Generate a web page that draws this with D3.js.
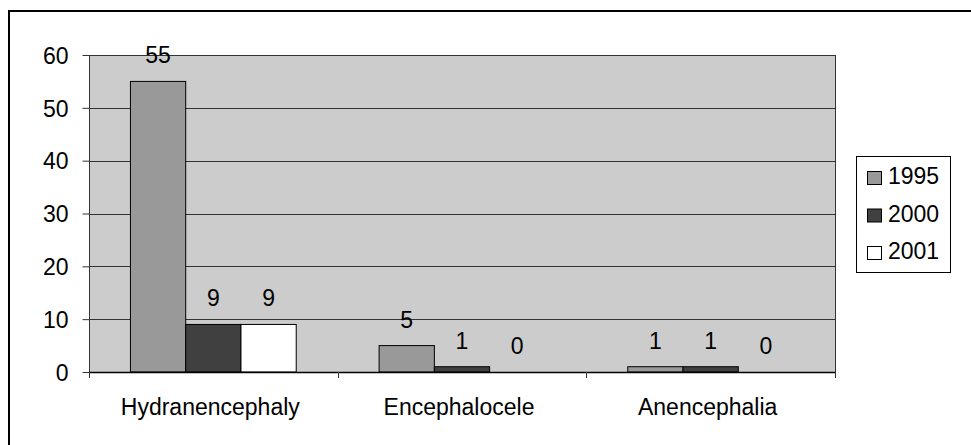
<!DOCTYPE html>
<html>
<head>
<meta charset="utf-8">
<script src="https://cdn.jsdelivr.net/npm/d3@7"></script>
<style>
  html, body { margin: 0; padding: 0; background: #ffffff; }
  svg { display: block; }
  text { font-family: "Liberation Sans", Arial, sans-serif; }
</style>
</head>
<body>
<svg id="chart" width="971" height="445"></svg>
<script>
const categories = ["Hydranencephaly", "Encephalocele", "Anencephalia"];
const seriesNames = ["1995", "2000", "2001"];
const values1995 = [55, 5, 1];
const values2000 = [9, 1, 1];
const values2001 = [9, 0, 0];
const yTicks = [0, 10, 20, 30, 40, 50, 60];
const seriesColors = ["#999999", "#404040", "#ffffff"];

const seriesValues = [values1995, values2000, values2001];

const svg = d3.select("#chart");
const W = 971, H = 445;
const plot = { left: 89, right: 835, top: 55, bottom: 372 };
const fontSize = 23;

// outer frame (left and top only visible)
svg.append("path")
  .attr("d", `M9,${H} L9,11 L${W},11`)
  .attr("fill", "none").attr("stroke", "#000").attr("stroke-width", 2);

const x0 = d3.scaleBand().domain(categories).range([plot.left, plot.right]).paddingInner(0).paddingOuter(0);
const y = d3.scaleLinear().domain([0, 60]).range([plot.bottom, plot.top]);

// plot background
svg.append("rect")
  .attr("x", plot.left).attr("y", plot.top)
  .attr("width", plot.right - plot.left).attr("height", plot.bottom - plot.top)
  .attr("fill", "#cccccc");

// gridlines
svg.append("g").selectAll("line").data(yTicks.filter(d => d > 0)).join("line")
  .attr("x1", plot.left).attr("x2", plot.right)
  .attr("y1", d => Math.round(y(d)) + 0.5).attr("y2", d => Math.round(y(d)) + 0.5)
  .attr("stroke", "#333").attr("stroke-width", 1);

// right border of plot
svg.append("line")
  .attr("x1", plot.right + 0.5).attr("x2", plot.right + 0.5)
  .attr("y1", plot.top).attr("y2", plot.bottom + 6)
  .attr("stroke", "#333").attr("stroke-width", 1);

// bars
const bandW = x0.bandwidth();
const barW = bandW / 4.5;
const x1 = d3.scaleBand().domain(seriesNames)
  .range([0, barW * 3]);

const groups = svg.append("g").selectAll("g").data(categories).join("g")
  .attr("transform", d => `translate(${x0(d) + (bandW - barW * 3) / 2},0)`);

seriesNames.forEach((s, si) => {
  groups.append("rect")
    .attr("x", x1(s)).attr("width", barW)
    .attr("y", (d, ci) => y(seriesValues[si][ci]))
    .attr("height", (d, ci) => y(0) - y(seriesValues[si][ci]))
    .attr("fill", seriesColors[si])
    .attr("stroke", "#000").attr("stroke-width", 1)
    .attr("display", (d, ci) => seriesValues[si][ci] === 0 ? "none" : null);
  groups.append("text")
    .attr("x", x1(s) + barW / 2)
    .attr("y", (d, ci) => y(seriesValues[si][ci]) - 18)
    .attr("text-anchor", "middle")
    .attr("font-size", fontSize).attr("fill", "#000")
    .text((d, ci) => seriesValues[si][ci]);
});

// y axis
const yAxis = d3.axisLeft(y).tickValues(yTicks).tickSize(7).tickPadding(14).tickFormat(d3.format("d"));
const gy = svg.append("g").attr("transform", `translate(${plot.left + 0.5},0)`).call(yAxis);
gy.select(".domain").attr("stroke", "#333").attr("d", `M0,${plot.top}V${plot.bottom}`);
gy.selectAll(".tick line").attr("stroke", "#333");
gy.selectAll(".tick text").attr("font-size", fontSize).attr("font-family", "Liberation Sans, Arial, sans-serif").attr("fill", "#000").attr("dy", "0.36em");

// x axis line
svg.append("line")
  .attr("x1", plot.left).attr("x2", plot.right + 1)
  .attr("y1", plot.bottom + 0.5).attr("y2", plot.bottom + 0.5)
  .attr("stroke", "#000").attr("stroke-width", 1.5);

// category ticks at band boundaries
const boundaries = categories.map(c => x0(c)).concat([plot.right]);
svg.append("g").selectAll("line").data(boundaries).join("line")
  .attr("x1", d => Math.round(d) + 0.5).attr("x2", d => Math.round(d) + 0.5)
  .attr("y1", plot.bottom).attr("y2", plot.bottom + 6)
  .attr("stroke", "#333");

// category labels
svg.append("g").selectAll("text").data(categories).join("text")
  .attr("x", d => x0(d) + bandW / 2 - 3)
  .attr("y", 415)
  .attr("text-anchor", "middle")
  .attr("font-size", fontSize).attr("fill", "#000")
  .text(d => d);

// legend
const lg = svg.append("g");
lg.append("rect").attr("x", 856.5).attr("y", 156.5).attr("width", 94).attr("height", 116)
  .attr("fill", "#fff").attr("stroke", "#000").attr("stroke-width", 1);
const rowY = d3.scalePoint().domain(seriesNames).range([184, 259]);
seriesNames.forEach((s, i) => {
  lg.append("rect").attr("x", 867.5).attr("y", rowY(s) - 12.5).attr("width", 14).attr("height", 13)
    .attr("fill", seriesColors[i]).attr("stroke", "#000").attr("stroke-width", 1);
  lg.append("text").attr("x", 888).attr("y", rowY(s))
    .attr("font-size", fontSize).attr("fill", "#000").text(s);
});
</script>
</body>
</html>
